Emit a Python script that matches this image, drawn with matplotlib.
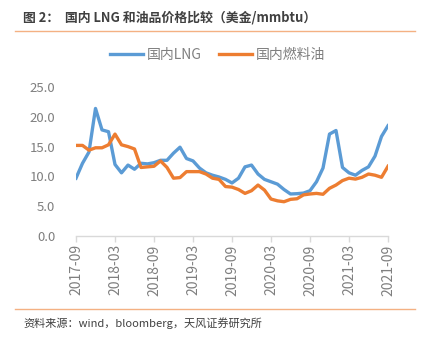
import matplotlib
matplotlib.use("Agg")
import matplotlib.pyplot as plt
from matplotlib.lines import Line2D

plt.rcParams['font.family'] = ['Noto Sans CJK SC', 'DejaVu Sans']

months = [f"{y}-{m:02d}" for y, m in
          [(2017 + (8 + i) // 12, (8 + i) % 12 + 1) for i in range(49)]]

lng = [9.7, 12.2, 14.1, 21.4, 17.8, 17.5, 12.0, 10.6, 11.9, 11.2,
       12.2, 12.1, 12.3, 12.7, 12.7, 13.9, 14.9, 13.0, 12.6, 11.4,
       10.6, 10.2, 9.9, 9.5, 8.9, 9.7, 11.6, 11.9, 10.4, 9.5,
       9.1, 8.7, 7.8, 7.05, 7.1, 7.2, 7.6, 9.1, 11.4, 17.1,
       17.7, 11.5, 10.6, 10.2, 11.0, 11.6, 13.4, 16.7, 18.5]

fuel = [15.2, 15.2, 14.4, 14.8, 14.8, 15.3, 17.1, 15.3, 15.0, 14.6,
        11.5, 11.6, 11.7, 12.6, 11.5, 9.7, 9.8, 10.8, 10.8, 10.8,
        10.4, 9.7, 9.5, 8.3, 8.2, 7.8, 7.15, 7.6, 8.55, 7.7,
        6.2, 5.9, 5.75, 6.15, 6.25, 6.9, 7.05, 7.15, 7.0, 8.0,
        8.55, 9.3, 9.7, 9.55, 9.85, 10.4, 10.2, 9.85, 11.7]

tick_labels = ["2017-09", "2018-03", "2018-09", "2019-03", "2019-09",
               "2020-03", "2020-09", "2021-03", "2021-09"]
yticks = [0, 5, 10, 15, 20, 25]

BLUE = "#5B9BD5"
ORANGE = "#ED7D31"
GRAY = "#7F7F7F"

fig = plt.figure(figsize=(4.31, 3.38), dpi=100)
ax = fig.add_axes([76/431, 1 - 236/338, (388-76)/431, (236-87)/338])

x = list(range(len(months)))
ax.plot(x, lng, color=BLUE, lw=2.4, solid_joinstyle='round')
ax.plot(x, fuel, color=ORANGE, lw=2.4, solid_joinstyle='round')

ax.set_xlim(0, len(months) - 1)
ax.set_ylim(0, 25)
ax.set_yticks(yticks)
ax.set_yticklabels([f"{v:.1f}" for v in yticks], color=GRAY, fontsize=9.5)
tick_pos = [months.index(t) for t in tick_labels]
ax.set_xticks(tick_pos)
ax.set_xticklabels(tick_labels, rotation=90, color=GRAY, fontsize=10)

for s in ['top', 'right', 'left']:
    ax.spines[s].set_visible(False)
ax.spines['bottom'].set_color('#D9D9D9')
ax.spines['bottom'].set_linewidth(1.0)
ax.tick_params(axis='y', length=0, pad=15)
ax.tick_params(axis='x', length=4, color='#D9D9D9', width=1.0, pad=2)

handles = [Line2D([], [], color=BLUE, lw=2.4), Line2D([], [], color=ORANGE, lw=2.4)]
fig.legend(handles, ["国内LNG", "国内燃料油"], loc='center', bbox_to_anchor=(0.505, 1 - 55/338),
           ncol=2, frameon=False, fontsize=10, labelcolor=GRAY, handlelength=2.4,
           columnspacing=1.2, handletextpad=0.3)

fig.text(23/431, 1 - 18/338, "图 2：  国内 LNG 和油品价格比较（美金/mmbtu）", fontsize=9.3,
         fontweight='bold', color='#404040', va='center', ha='left')
fig.add_artist(Line2D([15/431, 415/431], [1 - 31/338, 1 - 31/338], color='#F4B183', lw=1.0))
fig.add_artist(Line2D([15/431, 415/431], [1 - 309/338, 1 - 309/338], color='#F4B183', lw=1.0))
fig.text(23/431, 1 - 323/338, "资料来源：wind，bloomberg，天风证券研究所", fontsize=8,
         color='#404040', va='center', ha='left')

fig.savefig("out.png", dpi=100)
